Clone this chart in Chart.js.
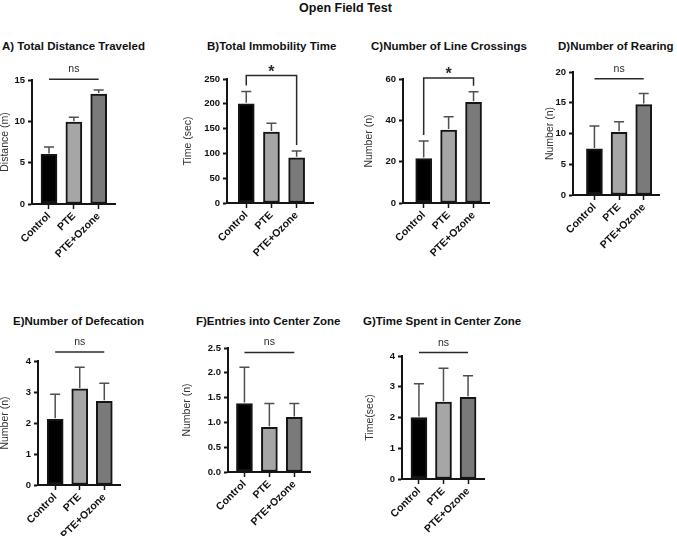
<!DOCTYPE html>
<html>
<head>
<meta charset="utf-8">
<script src="https://cdn.jsdelivr.net/npm/chart.js@4.4.1/dist/chart.umd.min.js"></script>
<style>
  html, body { margin: 0; padding: 0; background: #fff; overflow: hidden; }
  body { width: 677px; height: 536px; position: relative; font-family: "Liberation Sans", Arial, sans-serif; }
  canvas { position: absolute; }
  .title { position: absolute; font-weight: bold; white-space: nowrap; color: #111; line-height: 1; }
</style>
</head>
<body>
<div class="title" id="mainTitle" style="left:0;width:691px;text-align:center;top:2px;font-size:12.5px;">Open Field Test</div>
<script>
const categories = ['Control', 'PTE', 'PTE+Ozone'];

// mean and upper error (SEM) per group
const distanceMean = [6.0, 9.9, 13.3];
const distanceErr = [0.9, 0.6, 0.5];
const immobilityMean = [200, 143, 91];
const immobilityErr = [25, 18, 14];
const crossingsMean = [21.5, 35.3, 48.7];
const crossingsErr = [8.5, 6.4, 5.1];
const rearingMean = [7.5, 10.2, 14.7];
const rearingErr = [3.7, 1.7, 1.8];
const defecationMean = [2.12, 3.1, 2.7];
const defecationErr = [0.81, 0.7, 0.58];
const entriesMean = [1.38, 0.9, 1.1];
const entriesErr = [0.73, 0.48, 0.28];
const centerTimeMean = [2.0, 2.5, 2.66];
const centerTimeErr = [1.1, 1.1, 0.7];

const barColors = ['#000000', '#a6a6a6', '#7a7a7a'];
const FONT = '"Liberation Sans", Arial, sans-serif';
const PT = 40, PR = 10, XH = 60;

const panels = [
  {title: 'A) Total Distance Traveled', tx: 2, ty: 47, mean: distanceMean, err: distanceErr,
   yTitle: 'Distance (m)', yTitleX: 5, yMax: 15, step: 5, sig: 'ns', level: 15.1,
   box: [32, 80, 115, 204], xMin: -0.684, xMax: 2.656},
  {title: 'B)Total Immobility Time', tx: 207, ty: 47, mean: immobilityMean, err: immobilityErr,
   yTitle: 'Time (sec)', yTitleX: 187.5, yMax: 250, step: 50, sig: '*', level: 257,
   box: [227, 79, 313, 203], xMin: -0.765, xMax: 2.65},
  {title: 'C)Number of Line Crossings', tx: 371, ty: 47, mean: crossingsMean, err: crossingsErr,
   yTitle: 'Number (n)', yTitleX: 369, yMax: 60, step: 20, sig: '*', level: 60.5,
   box: [403, 79, 489, 203], xMin: -0.83, xMax: 2.62},
  {title: 'D)Number of Rearing', tx: 558, ty: 47, mean: rearingMean, err: rearingErr,
   yTitle: 'Number (n)', yTitleX: 550, yMax: 20, step: 5, sig: 'ns', level: 18.9,
   box: [573, 72, 659, 195], xMin: -0.87, xMax: 2.62},
  {title: 'E)Number of Defecation', tx: 13, ty: 322, mean: defecationMean, err: defecationErr,
   yTitle: 'Number (n)', yTitleX: 4.5, yMax: 4, step: 1, sig: 'ns', level: 4.29,
   box: [38, 361, 120, 485], xMin: -0.70, xMax: 2.64},
  {title: 'F)Entries into Center Zone', tx: 196, ty: 322, mean: entriesMean, err: entriesErr,
   yTitle: 'Number (n)', yTitleX: 186.7, yMax: 2.5, step: 0.5, sig: 'ns', level: 2.41, dec: 1,
   box: [228, 348, 310, 472], xMin: -0.66, xMax: 2.63},
  {title: 'G)Time Spent in Center Zone', tx: 363, ty: 322, mean: centerTimeMean, err: centerTimeErr,
   yTitle: 'Time(sec)', yTitleX: 369.5, yMax: 4, step: 1, sig: 'ns', level: 4.11,
   box: [402, 356, 484, 479], xMin: -0.69, xMax: 2.65}
];

// error bars (upper only) + significance marks
const marksPlugin = {
  id: 'marks',
  afterDatasetsDraw(chart, args, opts) {
    const ctx = chart.ctx, xs = chart.scales.x, ys = chart.scales.y;
    const p = opts.panel;
    ctx.save();
    ctx.strokeStyle = '#4f4f4f';
    ctx.lineWidth = 1.5;
    p.mean.forEach((m, i) => {
      const x = xs.getPixelForValue(i);
      const yb = ys.getPixelForValue(m);
      const yt = ys.getPixelForValue(m + p.err[i]);
      ctx.beginPath();
      ctx.moveTo(x, yb - 1);
      ctx.lineTo(x, yt);
      ctx.moveTo(x - 5, yt);
      ctx.lineTo(x + 5, yt);
      ctx.stroke();
    });

    const x0 = xs.getPixelForValue(0), x2 = xs.getPixelForValue(2);
    const yl = ys.getPixelForValue(p.level);
    ctx.strokeStyle = '#2a2a2a';
    ctx.fillStyle = '#2a2a2a';
    ctx.textAlign = 'center';
    if (p.sig === 'ns') {
      ctx.beginPath();
      ctx.moveTo(x0, yl);
      ctx.lineTo(x2, yl);
      ctx.stroke();
      ctx.font = '10.5px ' + FONT;
      ctx.textBaseline = 'middle';
      ctx.fillText('ns', (x0 + x2) / 2, yl - 10);
    } else {
      const leftEnd = ys.getPixelForValue(p.mean[0] + p.err[0]) - 6;
      const rightEnd = ys.getPixelForValue(p.mean[2] + p.err[2]) - 6;
      ctx.beginPath();
      ctx.moveTo(x0, leftEnd);
      ctx.lineTo(x0, yl);
      ctx.lineTo(x2, yl);
      ctx.lineTo(x2, rightEnd);
      ctx.stroke();
      ctx.font = 'bold 16px ' + FONT;
      ctx.textBaseline = 'alphabetic';
      ctx.fillText('*', (x0 + x2) / 2, yl + 1);
    }
    ctx.restore();
  }
};

function makeChart(p) {
  const left = Math.round(p.yTitleX - 6);
  const yw = p.box[0] - left;
  const top = p.box[1] - PT;
  const width = p.box[2] - left + PR;
  const height = p.box[3] - p.box[1] + PT + XH;

  const t = document.createElement('div');
  t.className = 'title';
  t.style.left = p.tx + 'px';
  t.style.top = (p.ty - 6) + 'px';
  t.style.fontSize = '11.5px';
  t.textContent = p.title;
  document.body.appendChild(t);

  const cv = document.createElement('canvas');
  cv.width = width;
  cv.height = height;
  cv.style.left = left + 'px';
  cv.style.top = top + 'px';
  document.body.appendChild(cv);

  return new Chart(cv.getContext('2d'), {
    type: 'bar',
    data: {
      datasets: [{
        data: p.mean.map((v, i) => ({x: i, y: v})),
        backgroundColor: barColors,
        borderColor: '#151515',
        borderWidth: 2,
        borderSkipped: false,
        barThickness: 16
      }]
    },
    options: {
      responsive: false,
      animation: false,
      layout: {padding: {top: PT, right: PR, left: 0, bottom: 0}},
      plugins: {
        legend: {display: false},
        tooltip: {enabled: false},
        marks: {panel: p}
      },
      scales: {
        x: {
          type: 'linear',
          offset: false,
          min: p.xMin,
          max: p.xMax,
          afterBuildTicks: (s) => { s.ticks = categories.map((c, i) => ({value: i})); },
          afterFit: (s) => { s.height = XH; },
          ticks: {
            autoSkip: false,
            minRotation: 45,
            maxRotation: 45,
            padding: 1,
            color: '#111',
            font: {family: FONT, size: 10.5, weight: 'bold'},
            callback: (v) => categories[v]
          },
          grid: {offset: false, drawOnChartArea: false, tickLength: 5, tickWidth: 1.5, color: '#151515'},
          border: {color: '#151515', width: 2}
        },
        y: {
          min: 0,
          max: p.yMax,
          afterFit: (s) => { s.width = yw; },
          ticks: {
            stepSize: p.step,
            padding: 3,
            color: '#111',
            font: {family: FONT, size: 9.5, weight: 'bold'},
            callback: (v) => p.dec ? v.toFixed(p.dec) : v
          },
          grid: {drawOnChartArea: false, tickLength: 4, tickWidth: 2, color: '#151515'},
          border: {color: '#151515', width: 2},
          title: {
            display: true,
            text: p.yTitle,
            color: '#333',
            padding: 0,
            font: {family: FONT, size: 10.5}
          }
        }
      }
    },
    plugins: [marksPlugin]
  });
}

panels.forEach(makeChart);
</script>
</body>
</html>
